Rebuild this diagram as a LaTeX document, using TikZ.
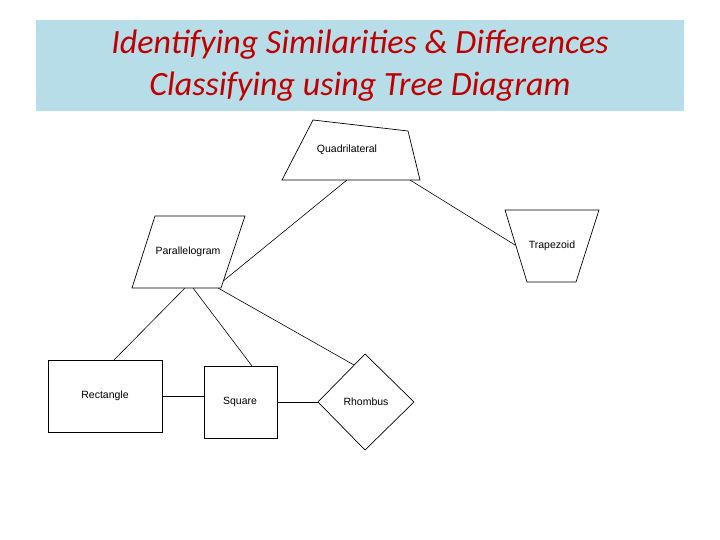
\documentclass[tikz,border=0pt]{standalone}
\usepackage{fontspec}
\setmainfont{Liberation Sans}
\newfontfamily\titlefont{Carlito}
\begin{document}
\begin{tikzpicture}[x=1pt,y=-1pt,
  shp/.style={draw=black,line width=0.7pt,fill=white},
  lbl/.style={font=\fontsize{10.5}{12}\selectfont,inner sep=0pt},
  conn/.style={draw=black,line width=0.6pt}]
\useasboundingbox (0,0) rectangle (720,540);
\fill[white] (0,0) rectangle (720,540);
\fill[fill={rgb,255:red,183;green,221;blue,232}] (36,20) rectangle (684,111);
\node[text={rgb,255:red,192;green,0;blue,0},font=\titlefont\itshape\fontsize{34}{42}\selectfont,align=center] (title) at (360,66) {Identifying Similarities \& Differences\\Classifying using Tree Diagram};
% coordinates
\coordinate (q1) at (347,180); \coordinate (q2) at (410,180);
\coordinate (p1) at (222,282); \coordinate (p2) at (185,288);
\coordinate (p3) at (193,288); \coordinate (p4) at (218,288);
\coordinate (t1) at (515,245);
\coordinate (r1) at (114,360); \coordinate (s1) at (252,366); \coordinate (h1) at (354,365);
\coordinate (r2) at (162,396); \coordinate (s2) at (204,396);
\coordinate (s3) at (277,402); \coordinate (h2) at (318,402);
% connectors
\draw[conn] (q1) -- (p1);
\draw[conn] (q2) -- (t1);
\draw[conn] (p2) -- (r1);
\draw[conn] (p3) -- (s1);
\draw[conn] (p4) -- (h1);
\draw[conn] (r2) -- (s2);
\draw[conn] (s3) -- (h2);
% shapes
\draw[shp] (313,120) -- (408,131) -- (420,180) -- (282,180) -- cycle;
\draw[shp] (155,216) -- (245,216) -- (221,288) -- (132,288) -- cycle;
\draw[shp] (505,210) -- (599,210) -- (576,282) -- (527,282) -- cycle;
\draw[shp] (48,360) rectangle (162,432);
\draw[shp] (204,366) rectangle (277,438);
\draw[shp] (365,354) -- (414,402) -- (365,450) -- (318,402) -- cycle;
% labels
\node[lbl] (quad) at (347,150) {Quadrilateral};
\node[lbl] (para) at (188,252) {Parallelogram};
\node[lbl] (trap) at (552,246) {Trapezoid};
\node[lbl] (rect) at (105,396) {Rectangle};
\node[lbl] (squa) at (240,402) {Square};
\node[lbl] (rhom) at (366,402) {Rhombus};
\end{tikzpicture}
\end{document}
